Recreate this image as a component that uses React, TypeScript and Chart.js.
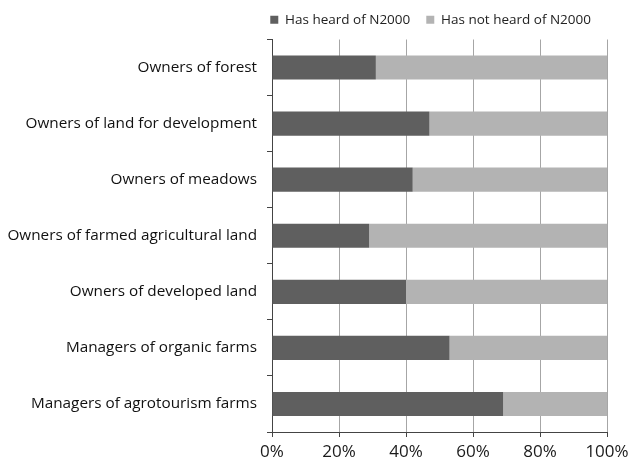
import React, { useEffect, useRef } from "react";
import { Chart, registerables } from "chart.js";

Chart.register(...registerables);

const categories = [
  "Owners of forest",
  "Owners of land for development",
  "Owners of meadows",
  "Owners of farmed agricultural land",
  "Owners of developed land",
  "Managers of organic farms",
  "Managers of agrotourism farms",
];
const heardValues = [31, 47, 42, 29, 40, 53, 69];
const notHeardValues = [69, 53, 58, 71, 60, 47, 31];
const seriesNames = ["Has heard of N2000", "Has not heard of N2000"];
const xTicks = [0, 20, 40, 60, 80, 100];

const FONT = "'Open Sans', 'Noto Sans', sans-serif";

const legendGapPlugin = {
  id: "legendGap",
  beforeLayout(chart: any) {
    const lg = chart.legend;
    if (lg && !lg.__patched) {
      const orig = lg.fit;
      lg.fit = function () {
        orig.call(this);
        this.height += 3;
      };
      lg.__patched = true;
    }
  },
};

export default function App() {
  const ref = useRef<HTMLCanvasElement | null>(null);
  useEffect(() => {
    document.body.style.margin = "0";
    const canvas = ref.current;
    if (!canvas) return;
    const chart = new Chart(canvas, {
      type: "bar",
      data: {
        labels: categories,
        datasets: [
          {
            label: seriesNames[0],
            data: heardValues,
            backgroundColor: "#5f5f5f",
            barPercentage: 0.43,
            categoryPercentage: 1,
          },
          {
            label: seriesNames[1],
            data: notHeardValues,
            backgroundColor: "#b3b3b3",
            barPercentage: 0.43,
            categoryPercentage: 1,
          },
        ],
      },
      plugins: [legendGapPlugin],
      options: {
        indexAxis: "y",
        animation: false,
        responsive: false,
        maintainAspectRatio: false,
        layout: { padding: { top: -3, right: 25, left: 0, bottom: 0 } },
        plugins: {
          tooltip: { enabled: false },
          legend: {
            position: "top",
            fullSize: true,
            align: "end",
            labels: {
              boxWidth: 8,
              boxHeight: 8,
              padding: 16,
              color: "#222",
              font: { family: FONT, size: 13.5 },
            },
          },
        },
        scales: {
          x: {
            stacked: true,
            min: 0,
            max: 100,
            afterBuildTicks: (scale: any) => {
              scale.ticks = xTicks.map((v) => ({ value: v }));
            },
            afterFit: (scale: any) => {
              scale.height = 28;
              scale.paddingRight = 22;
              scale.paddingLeft = 0;
            },
            ticks: {
              callback: (v: any) => v + "%",
              color: "#1a1a1a",
              font: { family: FONT, size: 17 },
              padding: 5,
              maxRotation: 0,
            },
            grid: {
              color: "#a6a6a6",
              tickColor: "#444",
              tickLength: 5,
              lineWidth: 1,
            },
            border: { color: "#444", width: 1 },
          },
          y: {
            stacked: true,
            afterFit: (scale: any) => {
              scale.width = 272;
            },
            ticks: {
              color: "#111",
              font: { family: FONT, size: 15.3 },
              padding: 10,
            },
            grid: {
              offset: true,
              drawOnChartArea: false,
              drawTicks: true,
              tickLength: 5,
              color: "#444",
            },
            border: { color: "#444", width: 1 },
          },
        },
      },
    });
    return () => chart.destroy();
  }, []);
  return (
    <div style={{ width: 632, height: 460, background: "#fff" }}>
      <canvas ref={ref} width={632} height={460} />
    </div>
  );
}
